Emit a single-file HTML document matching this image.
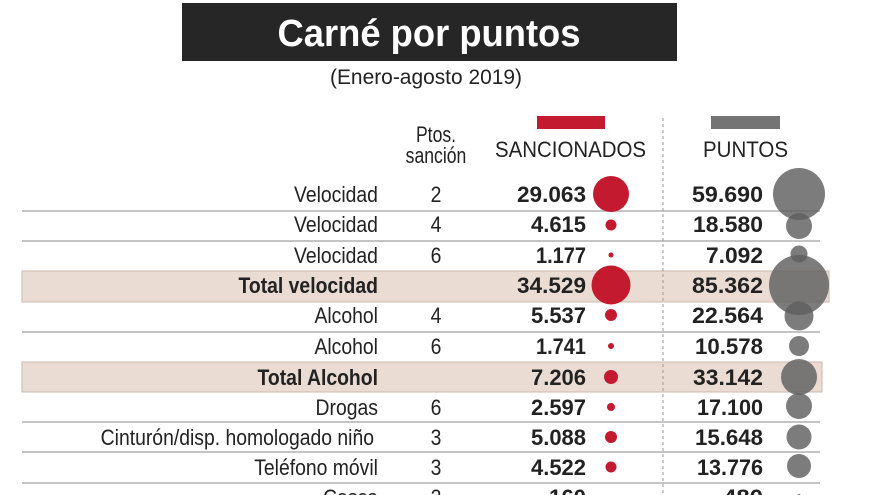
<!DOCTYPE html>
<html><head><meta charset="utf-8"><style>
html,body{margin:0;padding:0;background:#fff;width:880px;height:495px;overflow:hidden}
svg{display:block}
text{font-family:"Liberation Sans",sans-serif;fill:#222}
</style></head><body>
<svg width="880" height="495" viewBox="0 0 880 495">
<rect x="182" y="3" width="495" height="58" fill="#262626"/>
<text x="429" y="46" text-anchor="middle" font-size="38" font-weight="bold" style="fill:#fff" textLength="303" lengthAdjust="spacingAndGlyphs">Carné por puntos</text>
<text x="426" y="84" text-anchor="middle" font-size="21" textLength="192" lengthAdjust="spacingAndGlyphs">(Enero-agosto 2019)</text>

<rect x="537" y="116" width="68" height="13" fill="#c41a30"/>
<rect x="711" y="116" width="69" height="13" fill="#747474"/>
<g transform="scale(0.8,1)">
<text x="545" y="142" text-anchor="middle" font-size="22">Ptos.</text>
<text x="545" y="163" text-anchor="middle" font-size="22">sanción</text>
</g>
<text x="495" y="157" font-size="22" textLength="151" lengthAdjust="spacingAndGlyphs">SANCIONADOS</text>
<text x="703" y="157" font-size="22" textLength="85" lengthAdjust="spacingAndGlyphs">PUNTOS</text>

<!-- highlighted total rows -->
<rect x="22" y="271" width="807" height="31" fill="#eadcd2" stroke="#c9b9ad" stroke-width="1"/>
<rect x="22" y="362" width="800" height="30" fill="#eadcd2" stroke="#c9b9ad" stroke-width="1"/>

<!-- separators -->
<g stroke="#c4c4c4" stroke-width="2">
<line x1="22" y1="211" x2="820" y2="211"/>
<line x1="22" y1="241" x2="820" y2="241"/>
<line x1="22" y1="332" x2="820" y2="332"/>
<line x1="22" y1="422" x2="820" y2="422"/>
<line x1="22" y1="452" x2="820" y2="452"/>
<line x1="22" y1="483" x2="820" y2="483"/>
</g>
<line x1="663" y1="118" x2="663" y2="495" stroke="#999" stroke-width="1" stroke-dasharray="3,3"/>

<!-- labels -->
<g transform="scale(0.88,1)" font-size="22">
<text x="429.5" y="202" text-anchor="end">Velocidad</text>
<text x="429.5" y="232" text-anchor="end">Velocidad</text>
<text x="429.5" y="263" text-anchor="end">Velocidad</text>
<text x="429.5" y="293" text-anchor="end" font-weight="bold">Total velocidad</text>
<text x="429.5" y="323" text-anchor="end">Alcohol</text>
<text x="429.5" y="354" text-anchor="end">Alcohol</text>
<text x="429.5" y="385" text-anchor="end" font-weight="bold">Total Alcohol</text>
<text x="429.5" y="415" text-anchor="end">Drogas</text>
<text x="425" y="445" text-anchor="end">Cinturón/disp. homologado niño</text>
<text x="429.5" y="475" text-anchor="end">Teléfono móvil</text>
<text x="429.5" y="505" text-anchor="end">Casco</text>
</g>
<g transform="scale(0.88,1)" font-size="22" text-anchor="middle">
<text x="495.5" y="202">2</text><text x="495.5" y="232">4</text><text x="495.5" y="263">6</text>
<text x="495.5" y="323">4</text><text x="495.5" y="354">6</text>
<text x="495.5" y="415">6</text><text x="495.5" y="445">3</text><text x="495.5" y="475">3</text><text x="495.5" y="505">2</text>
</g>

<!-- numbers -->
<g font-size="22" font-weight="bold" text-anchor="end" lengthAdjust="spacingAndGlyphs">
<text x="586" y="202" textLength="69" lengthAdjust="spacingAndGlyphs">29.063</text>
<text x="586" y="232" textLength="55" lengthAdjust="spacingAndGlyphs">4.615</text>
<text x="586" y="263" textLength="50" lengthAdjust="spacingAndGlyphs">1.177</text>
<text x="586" y="293" textLength="69" lengthAdjust="spacingAndGlyphs">34.529</text>
<text x="586" y="323" textLength="55" lengthAdjust="spacingAndGlyphs">5.537</text>
<text x="586" y="354" textLength="50" lengthAdjust="spacingAndGlyphs">1.741</text>
<text x="586" y="385" textLength="55" lengthAdjust="spacingAndGlyphs">7.206</text>
<text x="586" y="415" textLength="55" lengthAdjust="spacingAndGlyphs">2.597</text>
<text x="586" y="445" textLength="55" lengthAdjust="spacingAndGlyphs">5.088</text>
<text x="586" y="475" textLength="55" lengthAdjust="spacingAndGlyphs">4.522</text>
<text x="586" y="505" textLength="37" lengthAdjust="spacingAndGlyphs">160</text>

<text x="763" y="202" textLength="71" lengthAdjust="spacingAndGlyphs">59.690</text>
<text x="763" y="232" textLength="70" lengthAdjust="spacingAndGlyphs">18.580</text>
<text x="763" y="263" textLength="57" lengthAdjust="spacingAndGlyphs">7.092</text>
<text x="763" y="293" textLength="71" lengthAdjust="spacingAndGlyphs">85.362</text>
<text x="763" y="323" textLength="71" lengthAdjust="spacingAndGlyphs">22.564</text>
<text x="763" y="354" textLength="68" lengthAdjust="spacingAndGlyphs">10.578</text>
<text x="763" y="385" textLength="70" lengthAdjust="spacingAndGlyphs">33.142</text>
<text x="763" y="415" textLength="66" lengthAdjust="spacingAndGlyphs">17.100</text>
<text x="763" y="445" textLength="68" lengthAdjust="spacingAndGlyphs">15.648</text>
<text x="763" y="475" textLength="66" lengthAdjust="spacingAndGlyphs">13.776</text>
<text x="763" y="505" textLength="40" lengthAdjust="spacingAndGlyphs">480</text>
</g>

<!-- red circles -->
<g fill="#c41a30">
<circle cx="611" cy="194" r="18"/>
<circle cx="611" cy="225" r="5.5"/>
<circle cx="611" cy="255" r="2.5"/>
<circle cx="611" cy="285" r="19.5"/>
<circle cx="611" cy="315" r="6"/>
<circle cx="611" cy="346" r="3"/>
<circle cx="611" cy="377" r="7"/>
<circle cx="611" cy="407" r="4"/>
<circle cx="611" cy="437" r="6"/>
<circle cx="611" cy="467" r="5.5"/>
</g>
<!-- gray circles -->
<g fill="#5f5f5f" fill-opacity="0.82">
<circle cx="799" cy="194" r="26"/>
<circle cx="799" cy="226" r="13"/>
<circle cx="799" cy="254" r="8.5"/>
<circle cx="799" cy="285" r="30"/>
<circle cx="799" cy="316" r="14.5"/>
<circle cx="799" cy="346" r="10"/>
<circle cx="799" cy="377" r="18"/>
<circle cx="799" cy="406" r="13"/>
<circle cx="799" cy="437" r="12.5"/>
<circle cx="799" cy="466" r="12"/>
<circle cx="799" cy="496" r="2"/>
</g>
</svg>
</body></html>
